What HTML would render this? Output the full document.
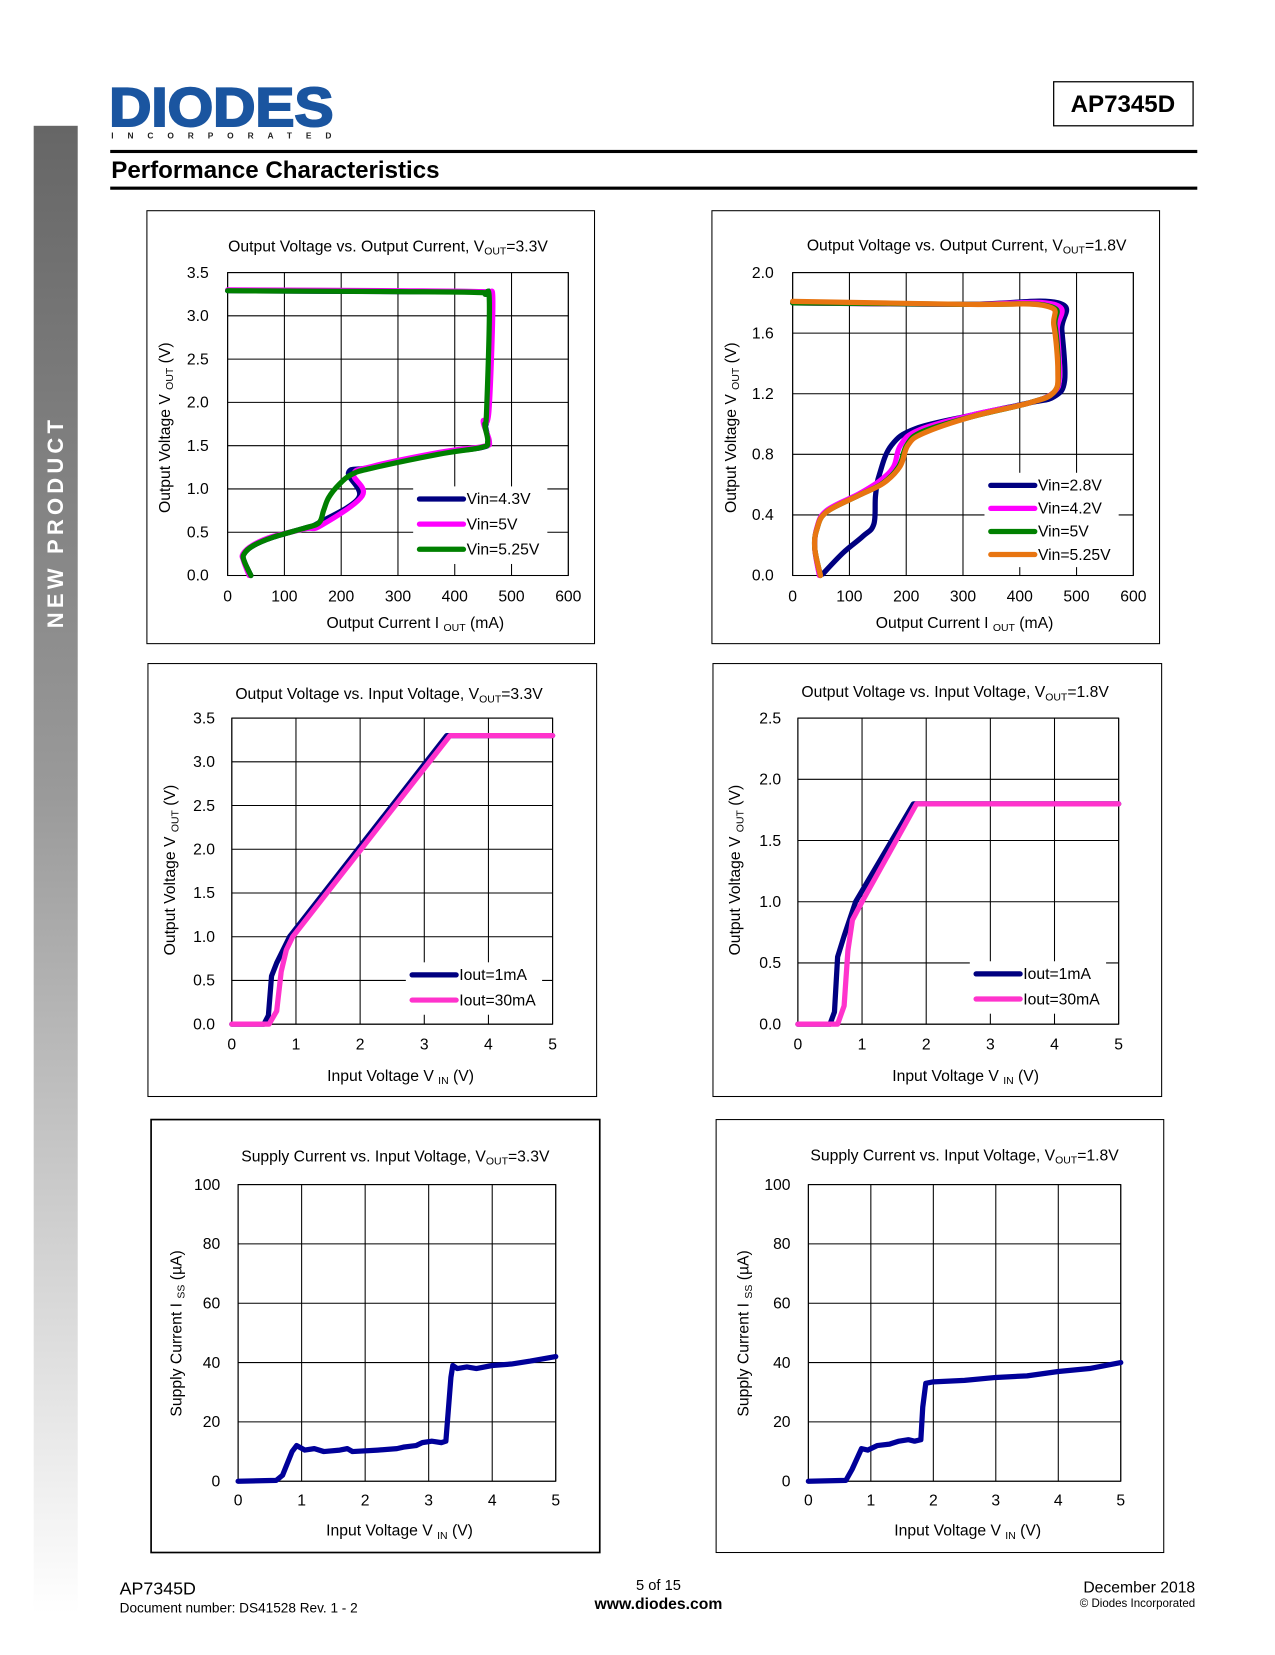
<!DOCTYPE html>
<html><head><meta charset="utf-8"><style>
html,body{margin:0;padding:0;background:#fff;}
svg text{font-family:"Liberation Sans",sans-serif;}
</style></head><body>
<svg id="page" width="1275" height="1650" viewBox="0 0 1216 1574" xmlns="http://www.w3.org/2000/svg">
<defs><linearGradient id="sg" x1="0" y1="0" x2="0" y2="1"><stop offset="0" stop-color="#666"/><stop offset="0.45" stop-color="#9a9a9a"/><stop offset="1" stop-color="#fff"/></linearGradient></defs>
<rect x="32" y="120" width="42" height="1420" fill="url(#sg)"/>
<text transform="translate(60,498) rotate(-90)" text-anchor="middle" font-size="21" font-weight="bold" fill="#fff" letter-spacing="4">NEW PRODUCT</text>
<g>
<text x="104" y="120" font-size="52" font-weight="bold" fill="#1a55a0" stroke="#1a55a0" stroke-width="2" textLength="214" lengthAdjust="spacingAndGlyphs">DIODES</text>
<text x="106" y="132" font-size="8" font-weight="bold" fill="#222" textLength="210" lengthAdjust="spacing">INCORPORATED</text>
</g>
<rect x="1005" y="78" width="133" height="42" fill="#fff" stroke="#000" stroke-width="1.2"/>
<text x="1071" y="107" text-anchor="middle" font-size="23" font-weight="bold">AP7345D</text>
<rect x="105" y="143" width="1037" height="3" fill="#000"/>
<text x="106" y="170" font-size="23" font-weight="bold">Performance Characteristics</text>
<rect x="105" y="178" width="1037" height="3" fill="#000"/>
<g id="charts"></g>
<text x="114" y="1521" font-size="17">AP7345D</text>
<text x="114" y="1538" font-size="13">Document number: DS41528  Rev. 1 - 2</text>
<text x="628" y="1517" font-size="14" text-anchor="middle">5 of 15</text>
<text x="628" y="1535" font-size="15" font-weight="bold" text-anchor="middle">www.diodes.com</text>
<text x="1140" y="1519" font-size="15" text-anchor="end">December 2018</text>
<text x="1140" y="1533" font-size="11" text-anchor="end">© Diodes Incorporated</text>
</svg>
<script>
// ---- data ----
const c1Green=[[0,3.29],[300,3.28],[440,3.27],[453,3.25],[461,3.15],[456,1.89],[453,1.74],[458,1.55],[447,1.48],[371,1.40],[254,1.24],[219,1.17],[196,1.05],[178,0.90],[169,0.75],[161,0.61],[137,0.55],[79,0.44],[44,0.34],[29,0.25],[29,0.17],[41,0]];
const c1Blue=[[0,3.29],[300,3.28],[440,3.28],[455,3.25],[462,3.15],[457,1.89],[454,1.74],[459,1.55],[448,1.48],[371,1.41],[254,1.25],[213,1.19],[231,0.90],[161,0.61],[137,0.55],[79,0.44],[44,0.34],[29,0.25],[29,0.17],[41,0]];
const c1Mag=[[0,3.30],[300,3.29],[445,3.28],[460,3.25],[467,3.15],[460,1.89],[450,1.78],[461,1.55],[449,1.49],[371,1.42],[254,1.26],[222,1.17],[237,0.92],[165,0.58],[137,0.54],[79,0.45],[44,0.35],[27,0.25],[28,0.17],[38,0]];
const c2Blue=[[0,1.80],[300,1.79],[467,1.80],[474,1.62],[479,1.29],[460,1.18],[417,1.14],[317,1.06],[217,0.97],[174,0.86],[153,0.67],[146,0.53],[143,0.34],[124,0.26],[89,0.15],[53,0.01]];
const c2Mag=[[0,1.80],[300,1.79],[460,1.79],[466,1.62],[470,1.32],[460,1.21],[417,1.14],[317,1.06],[222,0.96],[190,0.86],[178,0.72],[155,0.63],[117,0.54],[60,0.43],[43,0.32],[39,0.18],[47,0]];
const c2Green=[[0,1.80],[300,1.79],[450,1.78],[462,1.65],[468,1.35],[460,1.21],[417,1.14],[317,1.05],[229,0.95],[201,0.86],[187,0.72],[159,0.61],[117,0.53],[60,0.42],[43,0.31],[39,0.18],[49,0]];
const c2Orange=[[0,1.81],[300,1.79],[446,1.78],[460,1.65],[467,1.35],[460,1.21],[417,1.14],[317,1.05],[231,0.94],[203,0.86],[189,0.72],[160,0.61],[117,0.53],[60,0.42],[43,0.31],[39,0.18],[49,0]];
const c3Blue=[[0,0],[0.5,0],[0.57,0.1],[0.62,0.55],[0.7,0.7],[0.9,1.0],[3.35,3.3],[5,3.3]];
const c3Pink=[[0,0],[0.58,0],[0.7,0.15],[0.77,0.6],[0.85,0.85],[0.95,1.0],[3.4,3.3],[5,3.3]];
const c4Blue=[[0,0],[0.5,0],[0.57,0.1],[0.62,0.55],[0.72,0.72],[0.9,1.0],[1.8,1.8],[5,1.8]];
const c4Pink=[[0,0],[0.62,0],[0.72,0.15],[0.78,0.6],[0.85,0.85],[1.0,1.0],[1.85,1.8],[5,1.8]];
const c5Iss=[[0,0],[0.6,0.3],[0.7,2],[0.85,10],[0.92,12],[1.05,10.5],[1.2,11],[1.35,10],[1.6,10.5],[1.72,11],[1.8,10],[2.2,10.5],[2.5,11],[2.6,11.5],[2.8,12],[2.9,13],[3.05,13.5],[3.2,13],[3.27,13.5],[3.35,35],[3.38,39],[3.45,38],[3.6,38.5],[3.75,38],[4,39],[4.3,39.5],[4.6,40.5],[5,42]];
const c6Iss=[[0,0],[0.6,0.3],[0.7,4],[0.85,11],[0.95,10.5],[1.1,12],[1.3,12.5],[1.45,13.5],[1.6,14],[1.7,13.5],[1.8,14],[1.83,25],[1.88,33],[2.0,33.5],[2.5,34],[3,35],[3.5,35.5],[4,37],[4.5,38],[5,40]];
const xTicksI=[0,100,200,300,400,500,600];
const xTicksV=[0,1,2,3,4,5];
const yTicks35=[0,0.5,1.0,1.5,2.0,2.5,3.0,3.5];
const yTicks20=[0,0.4,0.8,1.2,1.6,2.0];
const yTicks25=[0,0.5,1.0,1.5,2.0,2.5];
const yTicks100=[0,20,40,60,80,100];

const NS="http://www.w3.org/2000/svg";
const root=document.getElementById('charts');
function mk(tag,attrs,parent){const e=document.createElementNS(NS,tag);for(const k in attrs)e.setAttribute(k,attrs[k]);(parent||root).appendChild(e);return e;}
function smoothPath(pts){
  let d='M'+pts[0][0].toFixed(1)+' '+pts[0][1].toFixed(1);
  for(let i=0;i<pts.length-1;i++){
    const p0=pts[i-1]||pts[i],p1=pts[i],p2=pts[i+1],p3=pts[i+2]||p2;
    const k=0.18;
    const c1=[p1[0]+(p2[0]-p0[0])*k,p1[1]+(p2[1]-p0[1])*k];
    const c2=[p2[0]-(p3[0]-p1[0])*k,p2[1]-(p3[1]-p1[1])*k];
    d+='C'+c1[0].toFixed(1)+' '+c1[1].toFixed(1)+' '+c2[0].toFixed(1)+' '+c2[1].toFixed(1)+' '+p2[0].toFixed(1)+' '+p2[1].toFixed(1);
  }
  return d;
}
function chart(o){
  const g=mk('g',{});
  
  
  const box=mk('rect',{x:o.box[0],y:o.box[1],width:o.box[2]-o.box[0],height:o.box[3]-o.box[1],fill:'#fff',stroke:'#000','stroke-width':o.thick?1.6:1},g);
  
  
  const [L,T,R,B]=o.plot;
  const sx=v=>L+(v-o.xr[0])/(o.xr[1]-o.xr[0])*(R-L);
  const sy=v=>B-(v-o.yr[0])/(o.yr[1]-o.yr[0])*(B-T);
  o.xt.forEach(v=>{const l=mk('line',{x1:sx(v),x2:sx(v),y1:T,y2:B,stroke:'#000','stroke-width':1},g);
    
    
    const t=mk('text',{x:sx(v),y:o.xtY,'font-size':15,'text-anchor':'middle'},g);t.textContent=v;
    
    });
  o.yt.forEach(v=>{const l=mk('line',{x1:L,x2:R,y1:sy(v),y2:sy(v),stroke:'#000','stroke-width':1},g);
    
    
    const t=mk('text',{x:o.ytX,y:sy(v)+5,'font-size':15,'text-anchor':'end'},g);t.textContent=o.yfmt(v);
    
    });
  const fr=mk('rect',{x:L,y:T,width:R-L,height:B-T,fill:'none',stroke:'#000','stroke-width':1},g);
  
  
  if(o.leg){const lr=mk('rect',{x:o.leg.x-6,y:o.leg.y0-12,width:o.leg.w,height:o.leg.dy*o.series.length+2,fill:'#fff'},g);
    
    }
  o.series.forEach(s=>{
    const pts=s.data.map(p=>[sx(p[0]),sy(p[1])]);
    const d=o.smooth?smoothPath(pts):pts.map((p,i)=>(i?'L':'M')+p[0].toFixed(1)+' '+p[1].toFixed(1)).join('');
    const p=mk('path',{d:d,fill:'none',stroke:s.color,'stroke-width':s.w||5,'stroke-linejoin':'round','stroke-linecap':'round'},g);
    
    
  });
  if(o.leg){o.series.forEach((s,i)=>{const y=o.leg.y0+i*o.leg.dy;
    const l=mk('line',{x1:o.leg.x,x2:o.leg.x+42,y1:y,y2:y,stroke:s.color,'stroke-width':5,'stroke-linecap':'round'},g);
    
    
    const t=mk('text',{x:o.leg.x+45,y:y+5,'font-size':15},g);t.textContent=s.label;
    
    });}
  const tt=mk('text',{x:o.title[0],y:o.title[1],'font-size':15,'text-anchor':'middle'},g);
  
  
  let a=mk('tspan',{},tt);a.textContent=o.title[2];
  a=mk('tspan',{'font-size':10,dy:3},tt);a.textContent=o.title[3];
  a=mk('tspan',{dy:-3},tt);a.textContent=o.title[4];
  const xl=mk('text',{x:o.xl[0],y:o.xl[1],'font-size':15,'text-anchor':'middle'},g);
  
  
  a=mk('tspan',{},xl);a.textContent=o.xl[2];
  a=mk('tspan',{'font-size':10,dy:3},xl);a.textContent=o.xl[3];
  a=mk('tspan',{dy:-3},xl);a.textContent=o.xl[4];
  const yl=mk('text',{x:o.yl[0],y:o.yl[1],'font-size':15,'text-anchor':'middle',transform:'rotate(-90 '+o.yl[0]+' '+o.yl[1]+')'},g);
  
  
  a=mk('tspan',{},yl);a.textContent=o.yl[2];
  a=mk('tspan',{'font-size':10,dy:3},yl);a.textContent=o.yl[3];
  a=mk('tspan',{dy:-3},yl);a.textContent=o.yl[4];
}
const f1=v=>v.toFixed(1), f0=v=>String(v);
chart({name:'chart-vout-iout-3v3',smooth:true,box:[140,201,567,614],plot:[217,260,542,549],xr:[0,600],yr:[0,3.5],xt:xTicksI,yt:yTicks35,yfmt:f1,xtY:574,ytX:199,
  title:[370,240,'Output  Voltage  vs.  Output  Current,  V','OUT','=3.3V'],xl:[396,599,'Output  Current I ','OUT',' (mA)'],yl:[162,408,'Output  Voltage  V ','OUT',' (V)'],
  leg:{x:400,y0:476,dy:24,w:128},
  series:[{key:'vin-4.3v',label:'Vin=4.3V',color:'#000080',data:c1Blue},{key:'vin-5v',label:'Vin=5V',color:'#ff00ff',data:c1Mag},{key:'vin-5.25v',label:'Vin=5.25V',color:'#008000',data:c1Green}]});
chart({name:'chart-vout-iout-1v8',smooth:true,box:[679,201,1106,614],plot:[756,260,1081,549],xr:[0,600],yr:[0,2.0],xt:xTicksI,yt:yTicks20,yfmt:f1,xtY:574,ytX:738,
  title:[922,239,'Output  Voltage  vs.  Output  Current,  V','OUT','=1.8V'],xl:[920,599,'Output  Current I ','OUT',' (mA)'],yl:[702,408,'Output  Voltage  V ','OUT',' (V)'],
  leg:{x:945,y0:463,dy:22,w:128},
  series:[{key:'vin-2.8v',label:'Vin=2.8V',color:'#000080',data:c2Blue},{key:'vin-4.2v',label:'Vin=4.2V',color:'#ff00ff',data:c2Mag},{key:'vin-5v',label:'Vin=5V',color:'#008000',data:c2Green},{key:'vin-5.25v',label:'Vin=5.25V',color:'#e87511',data:c2Orange}]});
chart({name:'chart-vout-vin-3v3',box:[141,633,569,1046],plot:[221,685,527,977],xr:[0,5],yr:[0,3.5],xt:xTicksV,yt:yTicks35,yfmt:f1,xtY:1001,ytX:205,
  title:[371,667,'Output  Voltage  vs.  Input  Voltage,  V','OUT','=3.3V'],xl:[382,1031,'Input Voltage V ','IN',' (V)'],yl:[167,830,'Output  Voltage  V ','OUT',' (V)'],
  leg:{x:393,y0:930,dy:24,w:130},
  series:[{key:'iout-1ma',label:'Iout=1mA',color:'#000080',data:c3Blue},{key:'iout-30ma',label:'Iout=30mA',color:'#ff33cc',data:c3Pink}]});
chart({name:'chart-vout-vin-1v8',box:[680,633,1108,1046],plot:[761,685,1067,977],xr:[0,5],yr:[0,2.5],xt:xTicksV,yt:yTicks25,yfmt:f1,xtY:1001,ytX:745,
  title:[911,665,'Output  Voltage  vs.  Input  Voltage,  V','OUT','=1.8V'],xl:[921,1031,'Input Voltage V ','IN',' (V)'],yl:[706,830,'Output  Voltage  V ','OUT',' (V)'],
  leg:{x:931,y0:929,dy:24,w:130},
  series:[{key:'iout-1ma',label:'Iout=1mA',color:'#000080',data:c4Blue},{key:'iout-30ma',label:'Iout=30mA',color:'#ff33cc',data:c4Pink}]});
chart({name:'chart-iss-vin-3v3',thick:true,box:[144,1068,572,1481],plot:[227,1130,530,1413],xr:[0,5],yr:[0,100],xt:xTicksV,yt:yTicks100,yfmt:f0,xtY:1436,ytX:210,
  title:[377,1108,'Supply  Current vs.  Input  Voltage,  V','OUT','=3.3V'],xl:[381,1465,'Input Voltage V ','IN',' (V)'],yl:[173,1272,'Supply  Current  I ','SS',' (µA)'],
  series:[{key:'iss',label:'Iss',color:'#000099',data:c5Iss}]});
chart({name:'chart-iss-vin-1v8',box:[683,1068,1110,1481],plot:[771,1130,1069,1413],xr:[0,5],yr:[0,100],xt:xTicksV,yt:yTicks100,yfmt:f0,xtY:1436,ytX:754,
  title:[920,1107,'Supply  Current vs.  Input  Voltage,  V','OUT','=1.8V'],xl:[923,1465,'Input Voltage V ','IN',' (V)'],yl:[714,1272,'Supply  Current  I ','SS',' (µA)'],
  series:[{key:'iss',label:'Iss',color:'#000099',data:c6Iss}]});
</script>
</body></html>
